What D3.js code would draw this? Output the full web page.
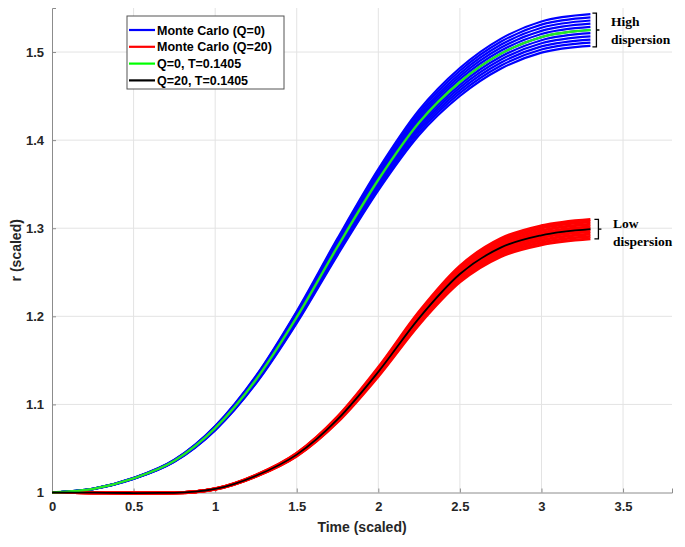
<!DOCTYPE html>
<html>
<head>
<meta charset="utf-8">
<script src="https://cdn.jsdelivr.net/npm/d3@7"></script>
<style>
  body { margin: 0; background: #fff; }
  svg { display: block; }
</style>
</head>
<body>
<script>
var timePts = [0, 0.25, 0.5, 0.75, 1, 1.25, 1.5, 1.75, 2, 2.25, 2.5, 2.75, 3, 3.3];

// Mean radius for Q=0 (green) and Q=20 (black)
var q0Mean  = [1.000, 1.004, 1.016, 1.036, 1.073, 1.128, 1.199, 1.279, 1.355, 1.420, 1.466, 1.498, 1.517, 1.525];
var q20Mean = [1.000, 0.9998, 0.9994, 0.9996, 1.004, 1.019, 1.043, 1.083, 1.137, 1.198, 1.248, 1.278, 1.292, 1.299];

// Half width of the Monte Carlo bundle at each time point
var q0Spread  = [0, 0.0002, 0.0006, 0.0012, 0.0025, 0.0044, 0.0068, 0.0095, 0.0121, 0.0143, 0.0159, 0.0170, 0.0177, 0.018];
var q20Spread = [0, 0, 0, 0, 0.0002, 0.0007, 0.0016, 0.0030, 0.0050, 0.0072, 0.0090, 0.0102, 0.0108, 0.011];

// Position of each Monte Carlo run inside the bundle (-1 bottom, 1 top)
var q0Runs  = [-1, -0.8, -0.6, -0.4, -0.2, 0, 0.2, 0.4, 0.6, 0.8, 1];
var q20Runs = [-1, -0.75, -0.5, -0.25, 0, 0.25, 0.5, 0.75, 1];

var xTicks = [0, 0.5, 1, 1.5, 2, 2.5, 3, 3.5];
var yTicks = [1, 1.1, 1.2, 1.3, 1.4, 1.5];

var legendLabels = ["Monte Carlo (Q=0)", "Monte Carlo (Q=20)", "Q=0, T=0.1405", "Q=20, T=0.1405"];
var legendColors = ["#0000ff", "#ff0000", "#00ff00", "#000000"];

// Set up the SVG
var svg_width = 685, svg_height = 547;
var margin = {left: 52, top: 8, right: 13, bottom: 54.5};
var w = svg_width - margin.left - margin.right;
var h = svg_height - margin.top - margin.bottom;

var svg = d3.select("body").append("svg")
    .attr("width", svg_width)
    .attr("height", svg_height);

var g = svg.append("g")
    .attr("transform", "translate(" + margin.left + "," + margin.top + ")");

var x = d3.scaleLinear().domain([0, 3.8]).range([0, w]);
var y = d3.scaleLinear().domain([1, 1.55]).range([h, 0]);

var axisFont = "'Liberation Sans', Arial, sans-serif";

// Grid lines
g.selectAll(".xgrid").data(xTicks.slice(1)).enter().append("line")
    .attr("x1", function(d) { return x(d); }).attr("x2", function(d) { return x(d); })
    .attr("y1", 0).attr("y2", h)
    .style("stroke", "#e3e3e3").style("stroke-width", 1);
g.selectAll(".ygrid").data(yTicks.slice(1)).enter().append("line")
    .attr("x1", 0).attr("x2", w)
    .attr("y1", function(d) { return y(d); }).attr("y2", function(d) { return y(d); })
    .style("stroke", "#e3e3e3").style("stroke-width", 1);

// Axes (matlab style, ticks pointing inside)
var xAxis = g.append("g")
    .attr("transform", "translate(0," + h + ")")
    .call(d3.axisBottom(x).tickValues(xTicks).tickSize(-4).tickPadding(9).tickFormat(d3.format("")));
var yAxis = g.append("g")
    .call(d3.axisLeft(y).tickValues(yTicks).tickSize(-4).tickPadding(8).tickFormat(d3.format("")));

[xAxis, yAxis].forEach(function(a) {
  a.select(".domain").style("stroke", "#8c8c8c");
  a.selectAll(".tick line").style("stroke", "#8c8c8c");
  a.selectAll(".tick text")
    .style("font-family", axisFont)
    .style("font-size", "13px")
    .style("font-weight", "bold")
    .style("fill", "#262626");
});

// Axis titles
svg.append("text")
    .attr("x", margin.left + x(1.9)).attr("y", 532)
    .attr("text-anchor", "middle")
    .style("font-family", axisFont).style("font-size", "14px").style("font-weight", "bold")
    .style("fill", "#262626")
    .text("Time (scaled)");
svg.append("text")
    .attr("transform", "translate(21," + (margin.top + y(1.275)) + ") rotate(-90)")
    .attr("text-anchor", "middle")
    .style("font-family", axisFont).style("font-size", "14px").style("font-weight", "bold")
    .style("fill", "#262626")
    .text("r (scaled)");

// Helper: build one run from mean + factor * spread
function runPoints(mean, spread, k) {
  return timePts.map(function(t, i) { return [t, mean[i] + k * spread[i]]; });
}

var line = d3.line()
    .x(function(d) { return x(d[0]); })
    .y(function(d) { return y(d[1]); })
    .curve(d3.curveMonotoneX);

// Monte Carlo bundles
g.selectAll(".runQ0").data(q0Runs).enter().append("path")
    .attr("d", function(k) { return line(runPoints(q0Mean, q0Spread, k)); })
    .style("fill", "none").style("stroke", "#0000ff").style("stroke-width", 2.2);

g.selectAll(".runQ20").data(q20Runs).enter().append("path")
    .attr("d", function(k) { return line(runPoints(q20Mean, q20Spread, k)); })
    .style("fill", "none").style("stroke", "#ff0000").style("stroke-width", 3);

// Mean curves
g.append("path")
    .attr("d", line(runPoints(q0Mean, q0Spread, 0)))
    .style("fill", "none").style("stroke", "#22e822").style("stroke-width", 2.4);
g.append("path")
    .attr("d", line(runPoints(q20Mean, q20Spread, 0)))
    .style("fill", "none").style("stroke", "#000").style("stroke-width", 1.8);

// Legend
var legend = svg.append("g").attr("transform", "translate(127,16)");
legend.append("rect")
    .attr("width", 157).attr("height", 73)
    .style("fill", "#fff").style("stroke", "#555").style("stroke-width", 1);
legendLabels.forEach(function(lbl, i) {
  var ly = 14 + i * 16.8;
  legend.append("line")
      .attr("x1", 2).attr("x2", 28).attr("y1", ly).attr("y2", ly)
      .style("stroke", legendColors[i]).style("stroke-width", 2.2);
  legend.append("text")
      .attr("x", 30).attr("y", ly + 4.5)
      .style("font-family", axisFont).style("font-size", "12.5px").style("font-weight", "bold")
      .style("fill", "#000")
      .text(lbl);
});

// Dispersion braces + notes
function brace(x0, y0, y1) {
  var ym = (y0 + y1) / 2;
  svg.append("path")
      .attr("d", "M" + (x0 - 4) + "," + y0 + " L" + x0 + "," + y0 + " L" + x0 + "," + y1 + " L" + (x0 - 4) + "," + y1 +
                 " M" + x0 + "," + ym + " L" + (x0 + 3) + "," + ym)
      .style("fill", "none").style("stroke", "#000").style("stroke-width", 1.3);
}
function note(x0, y0, words) {
  words.forEach(function(wd, i) {
    svg.append("text")
        .attr("x", x0).attr("y", y0 + i * 18)
        .style("font-family", "'Liberation Serif', 'Times New Roman', serif")
        .style("font-size", "13.5px").style("font-weight", "bold")
        .text(wd);
  });
}
var endT = timePts[timePts.length - 1];
var last = timePts.length - 1;
brace(margin.left + x(endT) + 6, margin.top + y(q0Mean[last] + q0Spread[last]) - 1, margin.top + y(q0Mean[last] - q0Spread[last]) + 1);
note(611, 26, ["High", "dispersion"]);
brace(margin.left + x(endT) + 8, margin.top + y(q20Mean[last] + q20Spread[last]), margin.top + y(q20Mean[last] - q20Spread[last]));
note(613, 228, ["Low", "dispersion"]);
</script>
</body>
</html>
